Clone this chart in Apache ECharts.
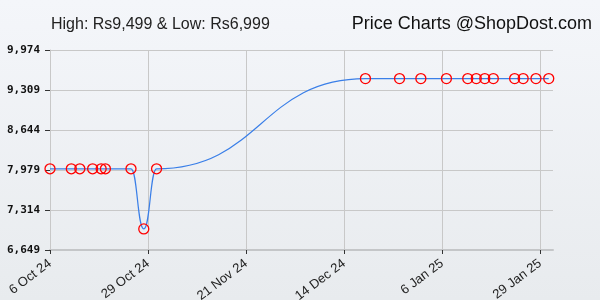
<!DOCTYPE html>
<html>
<head>
<meta charset="utf-8">
<script src="https://cdn.jsdelivr.net/npm/echarts@6/dist/echarts.min.js"></script>
<style>html,body{margin:0;padding:0;}#c{width:600px;height:300px;}</style>
</head>
<body>
<div id="c"></div>
<script>
const dates = ['2024-10-06','2024-10-11','2024-10-13','2024-10-16','2024-10-18','2024-10-19','2024-10-25','2024-10-28','2024-10-31','2024-12-19','2024-12-27','2025-01-01','2025-01-07','2025-01-12','2025-01-14','2025-01-16','2025-01-18','2025-01-23','2025-01-25','2025-01-28','2025-01-31'];
const prices = [7999,7999,7999,7999,7999,7999,7999,6999,7999,9499,9499,9499,9499,9499,9499,9499,9499,9499,9499,9499,9499];
const xTickDates = ['2024-10-06','2024-10-29','2024-11-21','2024-12-14','2025-01-06','2025-01-29'];
const yTickLabels = [6649,7314,7979,8644,9309,9974];
const xStart = '2024-10-06';
const xEnd = '2025-02-01';
const titleText = 'High: Rs9,499 & Low: Rs6,999';
const brandText = 'Price Charts @ShopDost.com';

const MONTHS = ['Jan','Feb','Mar','Apr','May','Jun','Jul','Aug','Sep','Oct','Nov','Dec'];
function ts(s){ const p = s.split('-').map(Number); return Date.UTC(p[0], p[1]-1, p[2]); }
function fmtDate(v){ const d = new Date(v); return d.getUTCDate() + ' ' + MONTHS[d.getUTCMonth()] + ' ' + String(d.getUTCFullYear()).slice(2); }

const chart = echarts.init(document.getElementById('c'), null, {renderer:'canvas'});
chart.setOption({
  animation: false,
  backgroundColor: {type:'linear', x:0, y:0, x2:0, y2:1, colorStops:[{offset:0,color:'#f4f6fa'},{offset:1,color:'#e8ebee'}]},
  title: [
    {text: titleText, left: 46, top: 12, textStyle:{fontFamily:'Liberation Sans', fontSize:16, fontWeight:'normal', color:'#222'}},
    {text: brandText, right: 3, top: 10, textStyle:{fontFamily:'Liberation Sans', fontSize:18, fontWeight:'normal', color:'#111'}}
  ],
  grid: {left: 50, right: 47, top: 50, bottom: 50, containLabel: false, outerBoundsMode: 'none'},
  xAxis: {
    type: 'value',
    min: ts(xStart), max: ts(xEnd),
    axisLine: {show:true, lineStyle:{color:'#c4c6c8', width:2}},
    axisTick: {show:true, length:4, lineStyle:{color:'#333'}, customValues: xTickDates.map(ts)},
    axisLabel: {customValues: xTickDates.map(ts), rotate:37, margin:12, formatter: v => fmtDate(v), fontFamily:'Liberation Sans', fontSize:13, color:'#222'},
    splitLine: {show:true, lineStyle:{color:'#c8c8c8', width:1}}
  },
  yAxis: {
    type: 'value',
    min: yTickLabels[0], max: yTickLabels[yTickLabels.length-1],
    axisLine: {show:true, lineStyle:{color:'#c8c8c8'}},
    axisTick: {show:true, length:5, inside:false, lineStyle:{color:'#333'}, customValues: yTickLabels},
    axisLabel: {customValues: yTickLabels, margin:10, formatter: v => v.toLocaleString('en-US'), fontFamily:'DejaVu Sans Mono', fontWeight:'bold', fontSize:11, color:'#111'},
    splitLine: {show:true, lineStyle:{color:'#c8c8c8', width:1}}
  },
  series: [{
    type: 'line',
    data: dates.map((d,i) => [ts(d), prices[i]]),
    smooth: 0.5,
    smoothMonotone: 'x',
    symbol: 'circle',
    symbolSize: 10,
    lineStyle: {color:'#3a7fe8', width:1.2},
    itemStyle: {color:'rgba(255,255,255,0)', borderColor:'#ff0000', borderWidth:1.3},
    z: 3
  }]
});
</script>
</body>
</html>
